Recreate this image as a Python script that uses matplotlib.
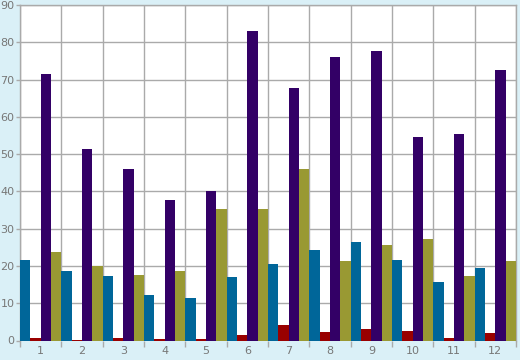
import matplotlib
matplotlib.use('Agg')
import matplotlib.pyplot as plt
import numpy as np

plt.rcParams['font.family'] = 'DejaVu Sans'

categories = ['1', '2', '3', '4', '5', '6', '7', '8', '9', '10', '11', '12']
serie_azul = [21.6, 18.7, 17.3, 12.2, 11.4, 17.1, 20.6, 24.3, 26.5, 21.6, 15.7, 19.5]
serie_vermelha = [0.7, 0.2, 0.7, 0.45, 0.45, 1.5, 4.2, 2.3, 3.1, 2.6, 0.7, 2.1]
serie_roxa = [71.5, 51.4, 46.0, 37.7, 40.1, 83.0, 67.7, 76.1, 77.7, 54.6, 55.4, 72.6]
serie_oliva = [23.8, 20.1, 17.6, 18.7, 35.3, 35.3, 46.0, 21.4, 25.6, 27.3, 17.3, 21.4]

fundo = '#daf0f7'
cinza = '#aaaaaa'
texto = '#777777'

fig = plt.figure(figsize=(5.2, 3.6), dpi=100)
fig.patch.set_facecolor(fundo)
ax = fig.add_axes([20 / 520, 19.5 / 360, 496 / 520, 335.5 / 360])
ax.set_facecolor('white')

index = np.arange(len(categories))
largura = 0.25
series = [serie_azul, serie_vermelha, serie_roxa, serie_oliva]
cores = ['#006699', '#990000', '#330066', '#999933']
for i, (valores, cor) in enumerate(zip(series, cores)):
    ax.bar(index - 0.375 + i * largura, valores, largura, color=cor,
           linewidth=0, zorder=3)

ax.set_xlim(-0.5, len(categories) - 0.5)
ax.set_ylim(0, 90)
ax.set_yticks(np.arange(0, 91, 10))
ax.set_xticks(index)
ax.set_xticklabels(categories)
ax.set_xticks(np.arange(-0.5, len(categories)), minor=True)

ax.grid(True, axis='y', which='major', color=cinza, linewidth=1, zorder=0)
ax.grid(True, axis='x', which='minor', color=cinza, linewidth=1, zorder=0)
ax.tick_params(axis='x', which='major', length=0, pad=4, labelsize=8, labelcolor=texto)
ax.tick_params(axis='x', which='minor', length=4, color=cinza, width=1)
ax.tick_params(axis='y', length=3, color=cinza, width=1, pad=1, labelsize=8, labelcolor=texto)

for lado in ['left', 'top', 'right']:
    ax.spines[lado].set_color(cinza)
    ax.spines[lado].set_linewidth(1)
ax.spines['bottom'].set_visible(False)

plt.savefig('out.png', dpi=100, facecolor=fundo)
